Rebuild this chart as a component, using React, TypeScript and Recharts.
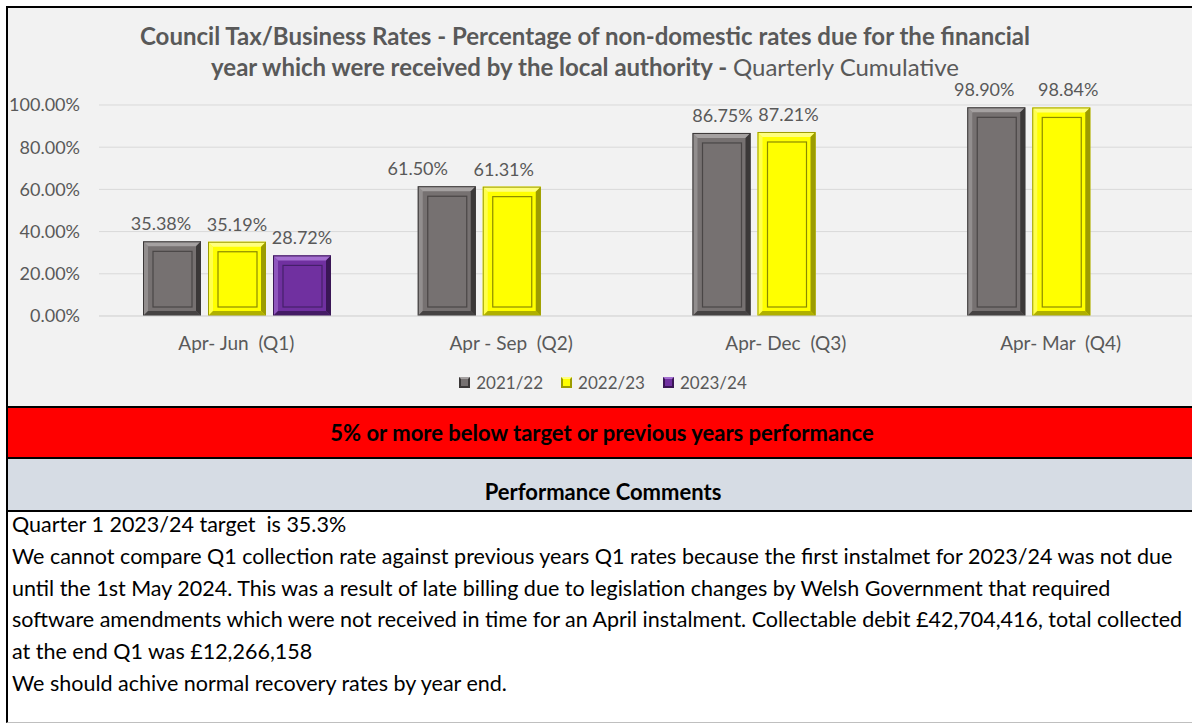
import React from "react";
import { BarChart, Bar, XAxis, YAxis, CartesianGrid, Legend, LabelList } from "recharts";

const FONT = "Lato, 'Open Sans', sans-serif";
const GREY_TEXT = "#595959";

const categories = ["Apr- Jun  (Q1)", "Apr - Sep  (Q2)", "Apr- Dec  (Q3)", "Apr- Mar  (Q4)"];
const series2122 = [35.38, 61.5, 86.75, 98.9];
const series2223 = [35.19, 61.31, 87.21, 98.84];
const series2324 = [28.72, null, null, null];
const yTicks = [0, 20, 40, 60, 80, 100];

const commentLines = [
  "Quarter 1 2023/24 target  is 35.3%",
  "We cannot compare Q1 collection rate against previous years Q1 rates because the first instalmet for 2023/24 was not due",
  "until the 1st May 2024. This was a result of late billing due to legislation changes by Welsh Government that required",
  "software amendments which were not received in time for an April instalment. Collectable debit £42,704,416, total collected",
  "at the end Q1 was £12,266,158",
  "We should achive normal recovery rates by year end.",
];

const data = categories.map((name, i) => ({
  name,
  y2122: series2122[i],
  y2223: series2223[i],
  y2324: series2324[i],
}));

// base / light bevel / dark bevel / inner line
const TONES: Record<string, [string, string, string, string]> = {
  y2122: ["#767171", "#a5a1a1", "#3b3838", "#4a4646"],
  y2223: ["#ffff00", "#ffff80", "#9c9c00", "#8a8a00"],
  y2324: ["#7030a0", "#a46fd0", "#3a1656", "#45206a"],
};

// the data labels were hand-dragged in the original, small horizontal nudges
const LABEL_NUDGE: Record<string, number[]> = {
  y2122: [-11, -29, 1, -12],
  y2223: [0, -8, 2, 7],
  y2324: [0, 0, 0, 0],
};

function BevelBar(props: any) {
  const { x, y, width, height, tone } = props;
  if (height == null || height <= 0) return null;
  const [base, light, dark, line] = TONES[tone];
  const b = 5;
  const r = x + width;
  const btm = y + height;
  return (
    <g>
      <rect x={x} y={y} width={width} height={height} fill={base} />
      <polygon points={`${x},${y} ${r},${y} ${r - b},${y + b} ${x + b},${y + b}`} fill={light} />
      <polygon points={`${x},${y} ${x + b},${y + b} ${x + b},${btm - b} ${x},${btm}`} fill={light} opacity={0.6} />
      <polygon points={`${r},${y} ${r},${btm} ${r - b},${btm - b} ${r - b},${y + b}`} fill={dark} />
      <polygon points={`${x},${btm} ${r},${btm} ${r - b},${btm - b} ${x + b},${btm - b}`} fill={dark} opacity={0.8} />
      <rect x={x + 10} y={y + 10} width={Math.max(width - 19, 0)} height={Math.max(height - 19, 0)} fill="none" stroke={line} strokeWidth={1.2} />
      <rect x={x + 0.5} y={y + 0.5} width={width - 1} height={height - 1} fill="none" stroke={dark} strokeWidth={1} />
    </g>
  );
}

function XTick({ x, y, payload }: any) {
  return (
    <text x={x} y={y} dy={18} textAnchor="middle" fill={GREY_TEXT} fontSize={19} fontFamily={FONT} style={{ whiteSpace: "pre" }}>
      {payload.value}
    </text>
  );
}

function LegendIcon({ tone }: { tone: string }) {
  const [base, light, dark] = TONES[tone];
  return (
    <svg width={11} height={11} style={{ marginRight: 6 }}>
      <rect x={0} y={0} width={11} height={11} fill={dark} />
      <rect x={2} y={2} width={7} height={7} fill={base} />
      <polygon points="0,0 11,0 9,2 2,2" fill={light} />
    </svg>
  );
}

function LegendContent({ payload }: any) {
  return (
    <div style={{ height: 24, display: "flex", justifyContent: "center", alignItems: "center", fontFamily: FONT, fontSize: 17, color: GREY_TEXT }}>
      {(payload || []).map((p: any) => (
        <span key={p.dataKey} style={{ margin: "0 9px", display: "flex", alignItems: "center" }}>
          <LegendIcon tone={p.dataKey} />
          {p.value}
        </span>
      ))}
    </div>
  );
}

const pct = (v: any) => (v == null ? "" : `${Number(v).toFixed(2)}%`);

function makeLabel(key: string) {
  return (props: any) => {
    const { x, y, width, value, index } = props;
    if (value == null) return null;
    const dx = LABEL_NUDGE[key][index] || 0;
    return (
      <text x={x + width / 2 + dx} y={y - 11} textAnchor="middle" fill={GREY_TEXT} fontSize={18} fontFamily={FONT}>
        {pct(value)}
      </text>
    );
  };
}

export default function App() {
  const series = [
    { key: "y2122", name: "2021/22" },
    { key: "y2223", name: "2022/23" },
    { key: "y2324", name: "2023/24" },
  ];
  return (
    <div style={{ position: "absolute", left: 0, top: 0, width: 1192, height: 725, background: "#fff", overflow: "hidden", fontFamily: FONT }}>
      {/* chart panel */}
      <div style={{ position: "absolute", left: 6, top: 6, width: 1184, height: 399, borderLeft: "2px solid #000", borderTop: "2px solid #000", background: "#f2f2f2", overflow: "hidden" }}>
        <div style={{ position: "absolute", left: 0, top: 12, width: 1154, textAlign: "center", color: GREY_TEXT, fontSize: 24, lineHeight: "31px", fontWeight: 700 }}>
          <div>Council Tax/Business Rates - Percentage of non-domestic rates due for the financial</div>
          <div>
            year which were received by the local authority - <span style={{ fontWeight: 400 }}>Quarterly Cumulative</span>
          </div>
        </div>
        <BarChart width={1196} height={400} data={data} margin={{ top: 97, right: 6, left: 0, bottom: 38 }} barCategoryGap={44} barGap={7}>
          <CartesianGrid vertical={false} stroke="#d9d9d9" />
          <XAxis dataKey="name" tick={<XTick />} tickLine={false} axisLine={{ stroke: "#d9d9d9" }} tickMargin={10} height={30} interval={0} />
          <YAxis
            domain={[0, 100]}
            ticks={yTicks}
            tickFormatter={pct}
            tickLine={false}
            axisLine={false}
            width={91}
            tickMargin={13}
            tick={{ fill: GREY_TEXT, fontSize: 18, fontFamily: FONT }}
          />
          <Legend verticalAlign="bottom" content={<LegendContent />} wrapperStyle={{ top: 362 }} />
          {series.map((s) => (
            <Bar key={s.key} dataKey={s.key} name={s.name} fill={TONES[s.key][0]} isAnimationActive={false} shape={(p: any) => <BevelBar {...p} tone={s.key} />}>
              <LabelList dataKey={s.key} content={makeLabel(s.key)} />
            </Bar>
          ))}
        </BarChart>
      </div>
      {/* status band */}
      <div style={{ position: "absolute", left: 6, top: 406, width: 1190, height: 49, background: "#ff0000", borderLeft: "2px solid #000", borderTop: "2px solid #000", borderBottom: "2px solid #000", display: "flex", alignItems: "center", justifyContent: "center", fontWeight: 700, fontSize: 22, color: "#000" }}>
        <span style={{ marginRight: 2 }}>5% or more below target or previous years performance</span>
      </div>
      <div style={{ position: "absolute", left: 6, top: 459, width: 1190, height: 51, background: "#d6dce4", borderLeft: "2px solid #000", borderBottom: "2px solid #000" }}>
        <div style={{ position: "absolute", left: 0, width: 1190, top: 19, textAlign: "center", fontWeight: 700, fontSize: 22, color: "#000" }}>Performance Comments</div>
      </div>
      {/* comments */}
      <div style={{ position: "absolute", left: 6, top: 512, width: 1190, height: 210, borderLeft: "2px solid #000", borderBottom: "1px solid #bfbfbf" }}>
        <div style={{ position: "absolute", left: 4, top: -3, fontSize: 21.5, lineHeight: "31.8px", color: "#000", whiteSpace: "pre" }}>
          {commentLines.map((l, i) => (
            <div key={i}>{l}</div>
          ))}
        </div>
      </div>
    </div>
  );
}
